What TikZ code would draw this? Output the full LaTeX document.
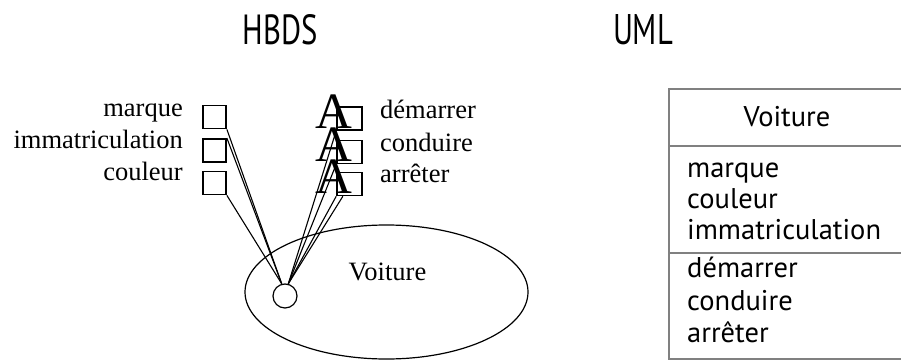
\documentclass[tikz,border=0pt]{standalone}
\usepackage{fontspec}
\setmainfont{Liberation Serif}
\newfontfamily\umlfont{PT Sans}
\usetikzlibrary{shapes.geometric,calc}
\begin{document}
\begin{tikzpicture}[x=1pt,y=-1pt,
  lbl/.style={inner sep=0pt,font=\fontsize{26.5}{30}\selectfont},
  attrbox/.style={draw,line width=1.8pt,minimum width=23pt,minimum height=23pt,inner sep=0pt},
  opbox/.style={draw,line width=1.6pt,minimum width=25pt,minimum height=23pt,inner sep=0pt},
  link/.style={line width=1.1pt},
  bigA/.style={inner sep=0pt,anchor=base,font=\fontsize{51}{51}\selectfont},
  umltxt/.style={inner sep=0pt,anchor=base west,font=\umlfont\fontsize{28.5}{30}\selectfont},
  umlline/.style={draw=black!50,line width=2.4pt},
  title/.style={inner sep=0pt,anchor=base,font=\umlfont\fontsize{40}{40}\selectfont}]
\useasboundingbox (0,0) rectangle (901,361);
% titles
\node[title] (thbds) at (280,45) {\resizebox{75pt}{30pt}{HBDS}};
\node[title] (tuml) at (643,45) {\resizebox{60pt}{30pt}{UML}};
% ellipse and class name
\node[draw,ellipse,line width=1.2pt,minimum width=283pt,minimum height=134pt] (ell) at (386.5,292) {};
\node[lbl,anchor=base] (vname) at (387.5,280) {Voiture};
\node[draw,circle,line width=1.2pt,minimum size=24pt,inner sep=0pt,fill=white] (circ) at (285,296) {};
% attribute boxes and labels
\node[attrbox] (bm) at (214.5,117) {};
\node[attrbox] (bi) at (214.5,150.5) {};
\node[attrbox] (bc) at (214.5,183) {};
\node[lbl,anchor=base east] (lm) at (183,116) {marque};
\node[lbl,anchor=base east] (li) at (183,148) {immatriculation};
\node[lbl,anchor=base east] (lc) at (183,180) {couleur};
% operation glyphs, boxes and labels
\node[bigA] (a1) at (334,128) {A};
\node[bigA] (a2) at (334,161) {A};
\node[bigA] (a3) at (334,193) {A};
\node[opbox] (bd) at (349.5,118.5) {};
\node[opbox] (bk) at (349.5,152) {};
\node[opbox] (ba) at (349.5,184) {};
\node[lbl,anchor=base west] (ld) at (380,118) {démarrer};
\node[lbl,anchor=base west] (lk) at (380,151) {conduire};
\node[lbl,anchor=base west] (la) at (380,182) {arrêter};
% connectors
\draw[link] (bm.south east) -- (circ.105);
\draw[link] (bi.north east) -- (circ.105);
\draw[link] (bc.south east) -- (circ.105);
\coordinate (baq) at ($(ba.south west)!0.25!(ba.south east)$);
\draw[link] (bd.south west) -- (circ.75);
\draw[link] (bk.south west) -- (circ.75);
\draw[link] (ba.south west) -- (circ.75);
\draw[link] (baq) -- (circ.75);
% UML class box
\coordinate (u1) at (669,89);
\coordinate (u2) at (669,146);
\coordinate (u3) at (669,253);
\coordinate (u4) at (669,359);
\draw[umlline] (901,89) -- (u1) -- (u4) -- (901,359);
\draw[umlline] (u2) -- (901,146);
\draw[umlline] (u3) -- (901,253);
\node[umltxt,anchor=base] (un) at (787,126) {Voiture};
\node[umltxt] (u5) at (687,177) {marque};
\node[umltxt] (u6) at (687,208) {couleur};
\node[umltxt] (u7) at (687,239) {immatriculation};
\node[umltxt] (u8) at (687,277) {démarrer};
\node[umltxt] (u9) at (687,310) {conduire};
\node[umltxt] (u10) at (687,342) {arrêter};
\end{tikzpicture}
\end{document}
